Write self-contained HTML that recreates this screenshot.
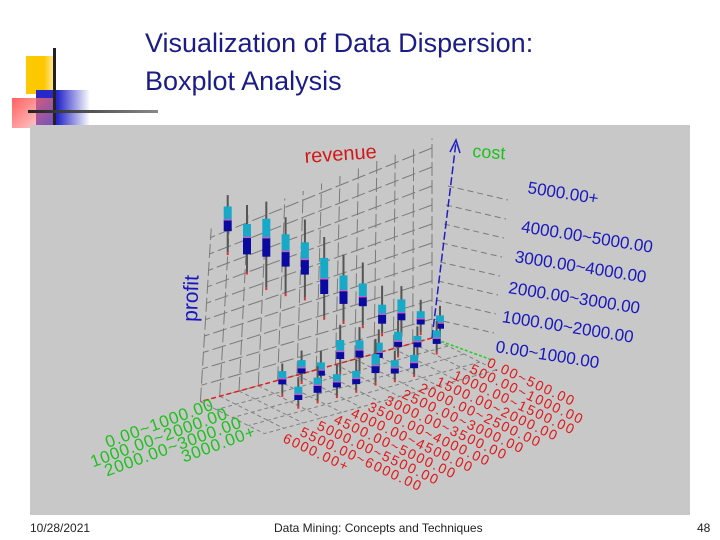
<!DOCTYPE html>
<html><head><meta charset="utf-8">
<style>
html,body{margin:0;padding:0;background:#fff;}
body{width:720px;height:540px;position:relative;overflow:hidden;font-family:"Liberation Sans",sans-serif;}
.t{position:absolute;white-space:nowrap;}
</style></head>
<body>
<div style="position:absolute;left:0;top:0;width:140px;height:140px;">
  <div style="position:absolute;left:26px;top:56px;width:30px;height:38px;background:linear-gradient(90deg,#fcc800 60%,#fff0c0);"></div>
  <div style="position:absolute;left:36px;top:90px;width:54px;height:36px;background:linear-gradient(90deg,#2828c8 40%,rgba(40,40,200,0));"></div>
  <div style="position:absolute;left:12px;top:98px;width:44px;height:30px;background:linear-gradient(135deg,#ff6060,rgba(255,180,180,0.3));"></div>
  <div style="position:absolute;left:53px;top:48px;width:3px;height:80px;background:#222;"></div>
  <div style="position:absolute;left:28px;top:110px;width:130px;height:3px;background:linear-gradient(90deg,#222,#888);"></div>
  <div style="position:absolute;left:30px;top:126px;width:130px;height:14px;background:#c4c4c4;"></div>
</div>
<div class="t" style="left:145px;top:24px;font-size:27px;line-height:38px;color:#1c1c88;">Visualization of Data Dispersion:<br>Boxplot Analysis</div>

<svg width="720" height="540" style="position:absolute;left:0;top:0;">
  <rect x="30" y="125" width="660" height="390" fill="#c8c8c8"/>
  <g id="grid"></g>
  <g id="marks"></g>
  <g id="labels"></g>
</svg>

<div class="t" style="left:30px;top:521px;font-size:12px;color:#222;">10/28/2021</div>
<div class="t" style="left:274px;top:521px;font-size:12px;color:#222;">Data Mining: Concepts and Techniques</div>
<div class="t" style="left:697px;top:521px;font-size:12px;color:#222;">48</div>

<script>
const revenueCats=["0.00~500.00","500.00~1000.00","1000.00~1500.00","1500.00~2000.00","2000.00~2500.00","2500.00~3000.00","3000.00~3500.00","3500.00~4000.00","4000.00~4500.00","4500.00~5000.00","5000.00~5500.00","5500.00~6000.00","6000.00+"];
const costCats=["0.00~1000.00","1000.00~2000.00","2000.00~3000.00","3000.00+"];
const profitCats=["0.00~1000.00","1000.00~2000.00","2000.00~3000.00","3000.00~4000.00","4000.00~5000.00","5000.00+"];
// boxes: revenue index, cost index, min, q1, median, q3, max (profit in grid units)
const boxRev=[0,1,2,3,4,5,6,7,8,9,10,11, 1,2,3,4,5,6,7,8,9, 3,4,5,6,7,8,9];
const boxCost=[0,0,0,0,0,0,0,0,0,0,0,0, 1,1,1,1,1,1,1,1,1, 2,2,2,2,2,2,2];
const boxMin=[0.4,0.8,1.0,1.3,2.0,2.5,3.0,4.3,4.8,5.4,6.5,7.8, 0.2,0.3,0.6,0.2,0.3,0.5,0.2,0.6,0.2, 0.0,0.0,0.1,0.0,0.0,0.0,0.0];
const boxQ1=[0.7,1.2,1.7,1.8,3.0,3.4,4.2,5.5,6.2,7.0,7.4,8.9, 0.6,0.7,1.0,0.7,1.0,1.2,0.6,1.0,0.7, 0.3,0.3,0.6,0.3,0.4,0.4,0.3];
const boxMed=[1.0,1.5,2.1,2.3,3.5,4.1,5.0,6.3,7.0,8.0,8.3,9.5, 0.9,1.0,1.3,1.0,1.4,1.6,0.9,1.3,1.0, 0.6,0.6,1.0,0.6,0.7,0.8,0.6];
const boxQ3=[1.4,1.9,2.8,2.8,4.2,4.9,6.1,7.2,7.9,9.0,9.0,10.2, 1.3,1.3,1.8,1.5,1.9,2.2,1.3,1.7,1.4, 1.0,1.0,1.6,1.0,1.1,1.2,1.0];
const boxMax=[1.9,2.5,3.5,3.8,5.3,6.0,7.2,8.4,8.8,9.9,10.0,10.8, 1.8,1.8,2.4,2.2,2.6,3.0,1.9,2.2,1.8, 1.4,1.5,2.4,1.6,1.6,1.8,1.5];

const NS="http://www.w3.org/2000/svg";
const O=[432,338], V=[-19.3,5.3], U=[10,5], H=19;
function px(r,c){return O[0]+r*V[0]+c*U[0];}
function py(r,c,p){return O[1]+r*V[1]+c*U[1]-p*H;}
function mk(tag,attrs,parent){const e=document.createElementNS(NS,tag);for(const k in attrs)e.setAttribute(k,attrs[k]);document.getElementById(parent).appendChild(e);return e;}

// back wall grid
for(let r=0;r<=12;r++){
  const l=mk('line',{x1:px(r,0),y1:py(r,0,0),x2:px(r,0)+r*0.9,y2:py(r,0,10.5)+r*2.2,stroke:'#7a7a7a','stroke-width':1,'stroke-dasharray':'14,4'},'grid');
  
  
}
for(let p=1;p<=10;p++){
  const l=mk('line',{x1:px(0,0),y1:py(0,0,p),x2:px(12,0)+p*1,y2:py(12,0,p)+p*2.6,stroke:'#7a7a7a','stroke-width':1,'stroke-dasharray':'14,4'},'grid');
  
  
}
// right side wall grid (cost direction)
for(let p=1;p<=8;p++){
  const l=mk('line',{x1:O[0]+p*2,y1:py(0,0,p),x2:O[0]+p*2+60,y2:py(0,0,p)+14,stroke:'#7a7a7a','stroke-width':1,'stroke-dasharray':'6,4'},'grid');
  
  
}
// floor grid
for(let c=0;c<=4;c++){
  const l=mk('line',{x1:px(0,c*1.6),y1:py(0,c*1.6,0),x2:px(12,c*1.6),y2:py(12,c*1.6,0),stroke:'#808080','stroke-width':1,'stroke-dasharray':'4,3'},'grid');
  
  
}
for(let r=0;r<=12;r++){
  const l=mk('line',{x1:px(r,0),y1:py(r,0,0),x2:px(r,6.4),y2:py(r,6.4,0),stroke:'#808080','stroke-width':1,'stroke-dasharray':'4,3'},'grid');
  
  
}
// axes
let a=mk('line',{x1:O[0],y1:O[1],x2:px(12,0),y2:py(12,0,0),stroke:'#e02020','stroke-width':1.5,'stroke-dasharray':'5,3'},'grid');

a=mk('line',{x1:O[0],y1:O[1],x2:492,y2:360,stroke:'#20d020','stroke-width':1.5,'stroke-dasharray':'3,2'},'grid');

a=mk('line',{x1:O[0],y1:O[1],x2:456,y2:142,stroke:'#2020c0','stroke-width':1.5,'stroke-dasharray':'8,3'},'grid');

mk('path',{d:'M450,152 L456,140 L460,153',fill:'none',stroke:'#2020c0','stroke-width':1.5},'grid');

// boxes (draw back to front)
const order=boxRev.map((_,i)=>i).sort((a,b)=>boxCost[a]-boxCost[b]||boxRev[b]-boxRev[a]);
for(const i of order){
  const r=boxRev[i],c=boxCost[i]*1.6+0.8;
  const x=px(r,c);
  const w=mk('line',{x1:x,y1:py(r,c,boxMin[i]),x2:x,y2:py(r,c,boxMax[i]),stroke:'#555','stroke-width':2},'marks');
  
  mk('line',{x1:x,y1:py(r,c,boxMin[i]),x2:x,y2:py(r,c,boxMin[i])+3,stroke:'#e03030','stroke-width':2},'marks');
  const b1=mk('rect',{x:x-4,y:py(r,c,boxMed[i]),width:8,height:py(r,c,boxQ1[i])-py(r,c,boxMed[i]),fill:'#0a0aa0'},'marks');
  
  const b2=mk('rect',{x:x-4,y:py(r,c,boxQ3[i]),width:8,height:py(r,c,boxMed[i])-py(r,c,boxQ3[i]),fill:'#18a8c8'},'marks');
  
  mk('line',{x1:x-4,y1:py(r,c,boxMed[i]),x2:x+4,y2:py(r,c,boxMed[i]),stroke:'#c060c0','stroke-width':1.5},'marks');
}

function txt(s,x,y,size,col,rot,name,anchor,ls){
  const t=mk('text',{x:x,y:y,'font-size':size,fill:col,'font-family':'Liberation Sans, sans-serif','text-anchor':anchor||'start','letter-spacing':ls||0,transform:'rotate('+rot+' '+x+' '+y+')'},'labels');
  t.textContent=s;
  
  
}
txt('revenue',305,163,20,'#d01818',-4,'revenue-title');
txt('cost',472,157,18,'#20c020',4,'cost-title');
txt('profit',197,322,21,'#1818c0',-88,'profit-title');
const pStart=[352,322,293,262,232,193];
for(let k=0;k<profitCats.length;k++){
  txt(profitCats[k],495+k*6.4,pStart[k],17,'#1818c0',9,'profit-tick-label');
}
for(let k=0;k<costCats.length;k++){
  txt(costCats[k],215+k*14,409+k*9,17,'#20c020',-20,'cost-tick-label','end',0.8);
}
for(let k=0;k<revenueCats.length;k++){
  txt(revenueCats[k],486-k*17,366+k*6.3,14,'#e01818',25,'revenue-tick-label','start',1.6);
}
</script>
</body></html>
